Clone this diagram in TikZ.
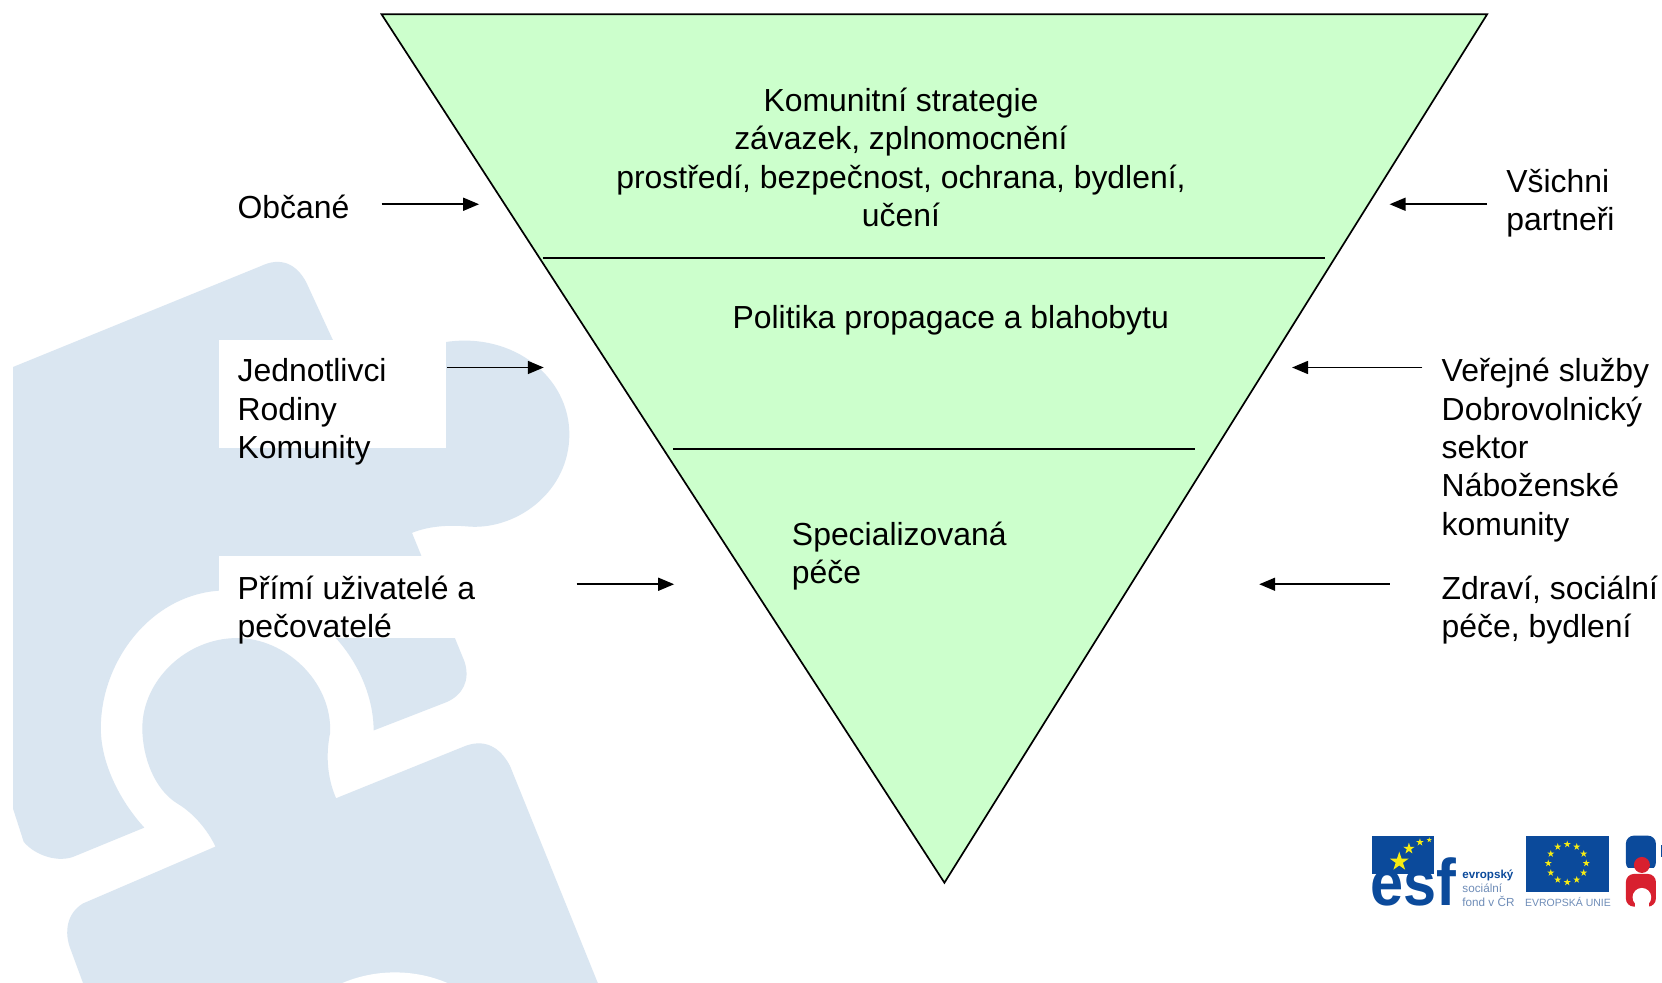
\documentclass[tikz,border=0pt]{standalone}
\usepackage{fontspec}
\setmainfont{Liberation Sans}
\usetikzlibrary{arrows.meta}
\definecolor{tri}{HTML}{CCFFCC}
\definecolor{puz}{HTML}{DAE6F1}
\definecolor{esfblue}{HTML}{0B4A9B}
\definecolor{esfgrey}{HTML}{6F8DB8}
\definecolor{esfred}{HTML}{D8202F}
\definecolor{esfyel}{HTML}{F7EC13}
\newcommand{\firstline}{\rule{0pt}{25pt}}
\newcommand{\logostar}[3]{\fill[esfyel,shift={(#1,#2)}] (-90:#3)--(126:#3)--(-18:#3)--(-162:#3)--(54:#3)--cycle;}
\tikzset{
  lbl/.style={anchor=north west,inner sep=0pt,align=left,yshift=25pt,text=black,font=\fontsize{31.9pt}{38.4pt}\selectfont},
  clbl/.style={anchor=north,inner sep=0pt,align=center,yshift=25pt,text=black,font=\fontsize{31.9pt}{38.4pt}\selectfont},
  edge/.style={draw=black,line width=1.7pt},
  arr/.style={draw=black,line width=1.7pt,-{Triangle[length=16pt,width=13pt]}},
}
\begin{document}
\begin{tikzpicture}[x=1.06pt,y=-1.06pt]
\useasboundingbox (0,0) rectangle (1568,927.4);
\fill[white] (0,0) rectangle (1568,927.4);
% puzzle watermark
\begin{scope}[x=0.3954pt,y=-0.4739pt,shift={(0pt,-240pt)}]
\fill[puz] (33,268) -- (660,55) .. controls (710,35) and (750,50) .. (775,90) -- (880,280) -- (1130,215)
  .. controls (1300,195) and (1440,290) .. (1440,410)
  .. controls (1440,530) and (1310,610) .. (1190,605)
  .. controls (1130,600) and (1080,605) .. (1042,618)
  -- (1175,890) .. controls (1190,930) and (1170,960) .. (1130,975)
  -- (945,1035) .. controls (945,900) and (800,730) .. (554,740)
  .. controls (380,750) and (255,890) .. (255,1030)
  .. controls (255,1110) and (310,1190) .. (365,1240)
  -- (190,1300) .. controls (150,1315) and (90,1300) .. (60,1270)
  -- (33,1200) -- cycle;
\fill[puz] (545,1280) -- (210,1400) .. controls (170,1420) and (160,1460) .. (180,1500)
  -- (210,1568) -- (1512,1568) -- (1290,1110)
  .. controls (1265,1070) and (1225,1050) .. (1170,1070)
  -- (850,1178) .. controls (825,1130) and (825,1080) .. (835,1040)
  .. controls (840,930) and (720,840) .. (600,840)
  .. controls (470,840) and (360,930) .. (360,1030)
  .. controls (360,1090) and (390,1160) .. (450,1190)
  .. controls (490,1210) and (525,1245) .. (545,1280) -- cycle;
\end{scope}
% head of a third piece at the bottom edge
\fill[white] (372.6,1044.8) circle (127.4);
% white label boxes
\fill[white] (207,321) rectangle (421,423);
\fill[white] (207,525) rectangle (466,602);
% triangle
\coordinate (tl) at (360,13.5);
\coordinate (tr) at (1403,13.5);
\coordinate (tb) at (891,832.8);
\filldraw[fill=tri,edge] (tl) -- (tr) -- (tb) -- cycle;
\coordinate (d1l) at (512,243.7); \coordinate (d1r) at (1250,243.7);
\coordinate (d2l) at (635,423.7); \coordinate (d2r) at (1127,423.7);
\draw[edge] (d1l) -- (d1r);
\draw[edge] (d2l) -- (d2r);
% texts
\node[clbl] (komunit) at (850,105) {\firstline Komunitní strategie\\závazek, zplnomocnění\\prostředí, bezpečnost, ochrana, bydlení,\\učení};
\node[lbl] (polit) at (691,310) {\firstline Politika propagace a blahobytu};
\node[lbl] (spec) at (747,514) {\firstline Specializovaná\\péče};
\node[lbl] (obc) at (224,206) {\firstline Občané};
\node[lbl] (jedn) at (224,360) {\firstline Jednotlivci\\Rodiny\\Komunity};
\node[lbl] (prim) at (224,565) {\firstline Přímí uživatelé a\\pečovatelé};
\node[lbl] (vsi) at (1421,181) {\firstline Všichni\\partneři};
\node[lbl] (ver) at (1360,360) {\firstline Veřejné služby\\Dobrovolnický\\sektor\\Náboženské\\komunity};
\node[lbl] (zdr) at (1360,565) {\firstline Zdraví, sociální\\péče, bydlení};
% arrows
\coordinate (a1s) at (360,192.7); \coordinate (a1e) at (452,192.7);
\coordinate (a2s) at (422,346.7); \coordinate (a2e) at (513,346.7);
\coordinate (a3s) at (544,551.2); \coordinate (a3e) at (636,551.2);
\coordinate (a4s) at (1403,192.7); \coordinate (a4e) at (1311,192.7);
\coordinate (a5s) at (1342,346.7); \coordinate (a5e) at (1219,346.7);
\coordinate (a6s) at (1311,551.2); \coordinate (a6e) at (1188,551.2);
\draw[arr] (a1s) -- (a1e);
\draw[arr] (a2s) -- (a2e);
\draw[arr] (a3s) -- (a3e);
\draw[arr] (a4s) -- (a4e);
\draw[arr] (a5s) -- (a5e);
\draw[arr] (a6s) -- (a6e);
% logos
\begin{scope}[x=0.3333pt,y=-0.3333pt,shift={(1340pt,-800pt)}]
\fill[esfblue] (97,107) rectangle (283,222);
\logostar{178}{185}{30}
\logostar{207}{146}{18}
\logostar{240}{127}{12}
\logostar{268}{120}{8}
\node[anchor=base west,inner sep=0pt,text=esfblue,xscale=0.9,font=\bfseries\fontsize{66pt}{66pt}\selectfont] (esf) at (92,316) {esf};
\node[anchor=base west,inner sep=0pt,text=esfblue,font=\bfseries\fontsize{11.6pt}{11.6pt}\selectfont] (ev) at (367,235) {evropský};
\node[anchor=base west,inner sep=0pt,text=esfgrey,font=\fontsize{11.7pt}{11.7pt}\selectfont] (so) at (367,277) {sociální};
\node[anchor=base west,inner sep=0pt,text=esfgrey,font=\fontsize{11.7pt}{11.7pt}\selectfont] (fo) at (367,320) {fond v ČR};
\fill[esfblue] (557,107) rectangle (808,275);
\foreach \a in {0,30,...,330}{
  \pgfmathsetmacro{\sx}{682+57*cos(\a)}
  \pgfmathsetmacro{\sy}{190+57*sin(\a)}
  \logostar{\sx}{\sy}{11}
}
\node[anchor=base west,inner sep=0pt,text=esfgrey,font=\fontsize{10.5pt}{10.5pt}\selectfont] (eu) at (555,320) {EVROPSKÁ UNIE};
% partner puzzle, cut by the page edge
\fill[esfblue,rounded corners=8pt] (858,212) -- (858,107) -- (948,107) -- (948,212) -- cycle;
\fill[esfblue] (962,135) rectangle (990,170);
\fill[white] (858,205) rectangle (948,222);
\fill[esfred,rounded corners=8pt] (858,222) -- (948,222) -- (948,320) -- (858,320) -- cycle;
\fill[esfred] (906,195) circle (24);
\fill[white] (906,292) circle (28);
\fill[white] (884,300) rectangle (928,325);
\end{scope}
\end{tikzpicture}
\end{document}
